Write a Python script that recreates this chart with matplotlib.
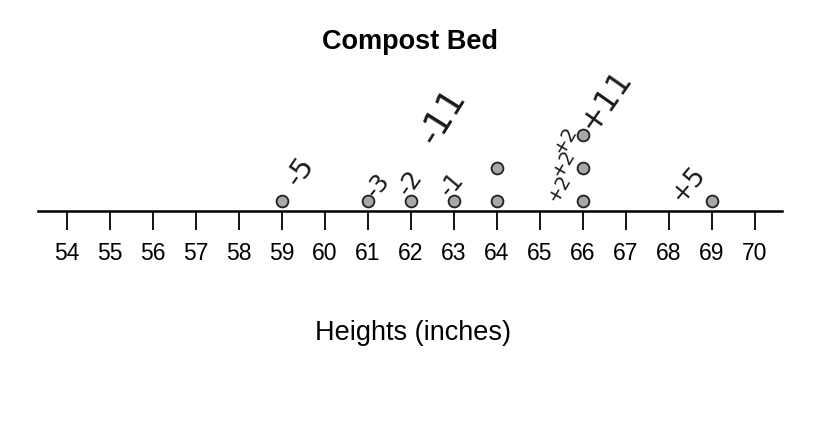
import matplotlib.pyplot as plt

# dot plot data: height (inches) -> number of plants
heights = [59, 61, 62, 63, 64, 66, 69]
counts = [1, 1, 1, 1, 2, 3, 1]
tick_values = list(range(54, 71))

# handwritten notes written next to the dots
note_text = ['-5', '-3', '-2', '-1', '-11', '+2', '+2', '+2', '+11', '+5']
note_x = [59.42, 61.23, 61.98, 62.95, 62.74, 65.45, 65.54, 65.6, 66.53, 68.44]
note_y = [1.18, 0.76, 0.85, 0.79, 2.85, 0.7, 1.45, 2.15, 3.35, 0.79]
note_size = [21, 17, 18, 17, 26, 14, 14, 14, 23, 19]
note_rot = [55, 50, 55, 50, 58, 60, 60, 60, 55, 50]

plt.rcParams['font.family'] = ['Liberation Sans', 'DejaVu Sans']

fig = plt.figure(figsize=(8.3, 4.25), dpi=100)
ax = fig.add_axes([38 / 830, 1 - 211 / 425, (782 - 38) / 830, 151 / 425])

# stack the dots, one level per plant
xs, ys = [], []
for h, c in zip(heights, counts):
    for k in range(c):
        xs.append(h)
        ys.append(k + 10 / 33)
ax.plot(xs, ys, 'o', ms=8.5, mfc='#a8a8a8', mec='#202020', mew=1.3, clip_on=False)

for t, x, y, s, r in zip(note_text, note_x, note_y, note_size, note_rot):
    ax.text(x, y, t, fontsize=s, rotation=r, ha='center', va='center',
            color='#1a1a1a', family='DejaVu Sans')

ax.set_xlim(54 - 29 / 43, 70 + 27 / 43)
ax.set_ylim(0, 151 / 33)
for side in ['top', 'left', 'right']:
    ax.spines[side].set_visible(False)
ax.spines['bottom'].set_linewidth(1.8)
ax.set_yticks([])
ax.set_xticks(tick_values)
ax.set_xticklabels([str(v) for v in tick_values])
ax.tick_params(axis='x', direction='out', length=14, width=1.3, pad=8, labelsize=16.5)

fig.text(410 / 830, 1 - 42 / 425, 'Compost Bed', ha='center', va='center',
         fontsize=19.5, fontweight='bold')
fig.text(413 / 830, 1 - 333 / 425, 'Heights (inches)', ha='center', va='center',
         fontsize=19.5)

fig.savefig('out.png', dpi=100, facecolor='white')
